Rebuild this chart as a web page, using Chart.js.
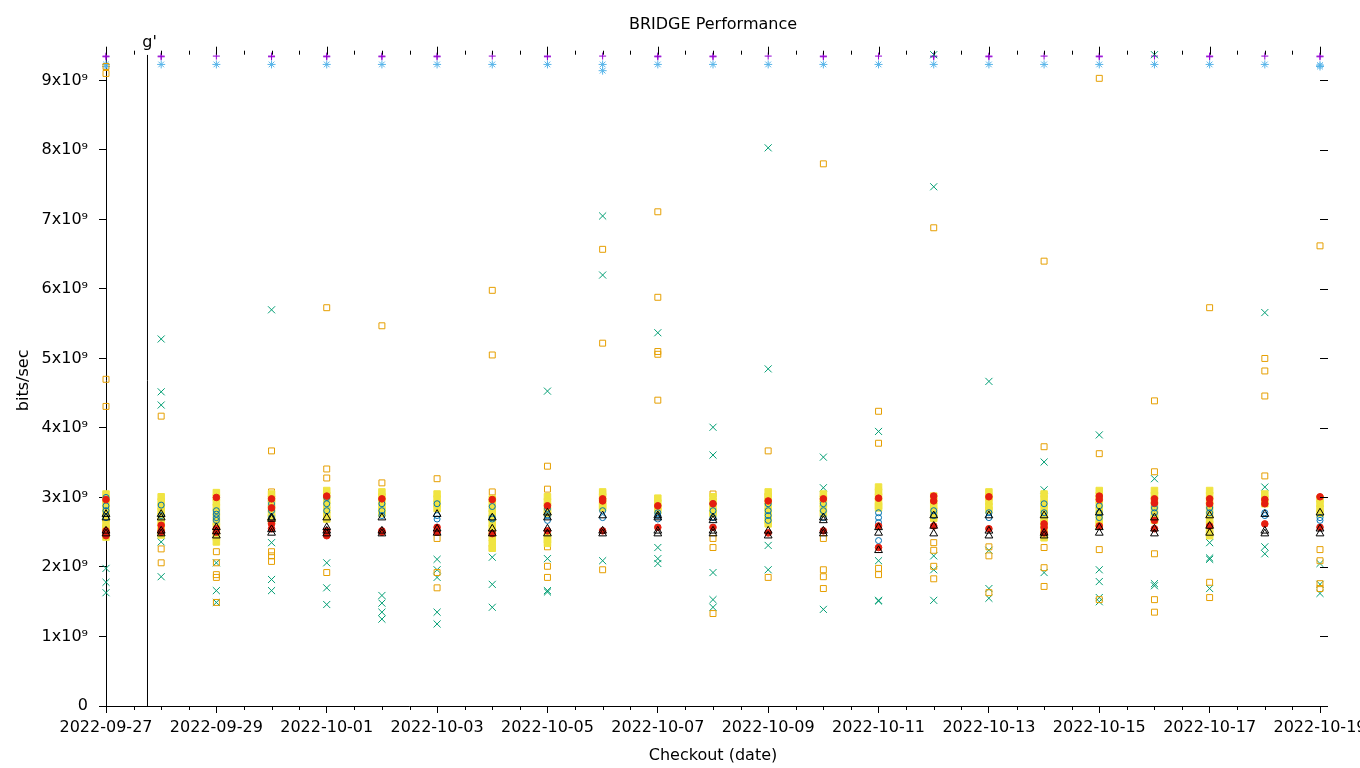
<!DOCTYPE html>
<html>
<head>
<meta charset="utf-8">
<title>BRIDGE Performance</title>
<script src="https://cdn.jsdelivr.net/npm/chart.js@4.4.1/dist/chart.umd.min.js"></script>
<style>
  html, body { margin: 0; padding: 0; background: #fff; }
</style>
</head>
<body>
<canvas id="place__graph" width="1360" height="768"></canvas>
<script>
// checkout dates, one column of points per day (x value = day index)
const dates = ['2022-09-27', '2022-09-28', '2022-09-29', '2022-09-30', '2022-10-01', '2022-10-02',
  '2022-10-03', '2022-10-04', '2022-10-05', '2022-10-06', '2022-10-07', '2022-10-08', '2022-10-09',
  '2022-10-10', '2022-10-11', '2022-10-12', '2022-10-13', '2022-10-14', '2022-10-15', '2022-10-16',
  '2022-10-17', '2022-10-18', '2022-10-19'];

// vertical marker (day index) and its label
const markerDay = 0.752;
const markerLabel = "g'";

const yMax = 9.37;  // x10^9
const yTicks = [0, 1, 2, 3, 4, 5, 6, 7, 8, 9];  // x10^9

// values in 10^9 bits/sec, one list per day
const purplePlus = [[9.35, 9.34], [9.35, 9.34], [9.35], [9.35, 9.34], [9.35, 9.34], [9.35, 9.34],
  [9.35, 9.34], [9.35], [9.35, 9.34], [9.35], [9.35, 9.34], [9.35, 9.34], [9.35],
  [9.35, 9.34], [9.35], [9.35, 9.34], [9.35, 9.34], [9.35], [9.35, 9.34], [9.35],
  [9.35, 9.34], [9.35], [9.35, 9.34]];

const greenCross = [[1.98, 1.78, 1.63], [5.28, 4.52, 4.33, 2.36, 1.86], [2.06, 1.66, 1.49],
  [5.70, 2.35, 1.82, 1.66], [2.06, 1.70, 1.46], [1.59, 1.48, 1.35, 1.25],
  [2.11, 1.96, 1.85, 1.35, 1.18], [2.14, 1.75, 1.42], [4.53, 2.12, 1.66, 1.64],
  [7.05, 6.20, 2.09], [5.37, 2.28, 2.12, 2.05], [4.01, 3.61, 1.92, 1.53, 1.42],
  [8.03, 4.85, 2.31, 1.96], [3.58, 3.14, 1.39], [3.95, 2.09, 1.52, 1.51],
  [9.37, 7.47, 2.16, 1.96, 1.52], [4.67, 2.24, 1.69, 1.55], [3.51, 3.11, 1.92],
  [3.90, 1.96, 1.79, 1.56, 1.50], [9.37, 3.27, 1.76, 1.73], [2.35, 2.13, 2.11, 1.69],
  [5.66, 3.15, 2.29, 2.19], [2.05, 1.75, 1.62]];

const blueStar = [[9.23, 9.20], [9.23], [9.23], [9.23], [9.23], [9.23], [9.23], [9.23], [9.23],
  [9.23, 9.14], [9.23], [9.23], [9.23], [9.23], [9.23], [9.23], [9.23], [9.23], [9.23],
  [9.23], [9.23], [9.23], [9.22, 9.20]];

const orangeSquare = [[9.20, 9.10, 4.70, 4.31, 2.55], [4.17, 2.26, 2.06], [2.22, 2.06, 1.89, 1.85, 1.49],
  [3.67, 3.08, 2.22, 2.16, 2.08], [5.73, 3.41, 3.28, 1.92], [5.47, 3.21],
  [3.27, 2.41, 1.92, 1.70], [5.98, 5.05, 3.08, 2.27], [3.45, 3.12, 2.29, 2.01, 1.85],
  [6.57, 5.22, 3.06, 1.96], [7.11, 5.88, 5.10, 5.06, 4.40], [3.05, 2.41, 2.28, 1.33],
  [3.67, 3.02, 1.85], [7.80, 2.41, 1.96, 1.86, 1.69], [4.24, 3.78, 3.10, 1.98, 1.89],
  [6.88, 2.35, 2.24, 2.01, 1.83], [3.00, 2.29, 2.16, 1.63], [6.40, 3.73, 2.28, 1.99, 1.72],
  [9.03, 3.63, 2.25, 1.53], [4.39, 3.37, 2.19, 1.53, 1.35], [5.73, 1.78, 1.56],
  [5.00, 4.82, 4.46, 3.31], [6.62, 2.25, 2.09, 1.76, 1.69]];

const yellowSquare = [
  [3.05, 2.98, 2.91, 2.84, 2.77, 2.70, 2.63, 2.56, 2.49, 2.43],
  [3.01, 2.94, 2.87, 2.80, 2.73, 2.66, 2.59, 2.52, 2.46],
  [3.07, 3.00, 2.93, 2.86, 2.79, 2.72, 2.65, 2.58, 2.50, 2.43, 2.36],
  [3.05, 2.98, 2.91, 2.84, 2.77, 2.71, 2.66],
  [3.10, 3.03, 2.96, 2.89, 2.82, 2.75, 2.69],
  [3.08, 3.01, 2.94, 2.87, 2.81, 2.77],
  [3.05, 2.98, 2.91, 2.84],
  [2.98, 2.91, 2.84, 2.77, 2.70, 2.63, 2.56, 2.49, 2.42, 2.34, 2.27],
  [3.01, 2.94, 2.87, 2.80, 2.77, 2.44, 2.39, 2.34],
  [3.08, 3.01, 2.94, 2.88, 2.85],
  [2.99, 2.92, 2.86, 2.81],
  [3.01, 2.94, 2.87, 2.80, 2.77],
  [3.08, 3.01, 2.94, 2.87, 2.80, 2.73, 2.67, 2.62],
  [3.05, 2.98, 2.91, 2.84, 2.77],
  [3.15, 3.08, 3.01, 2.94, 2.88, 2.85],
  [3.02, 2.95, 2.88, 2.81, 2.75, 2.70],
  [3.08, 3.01, 2.94, 2.87, 2.82],
  [3.05, 2.98, 2.91, 2.84, 2.77, 2.70, 2.63, 2.56, 2.49, 2.42],
  [3.10, 3.03, 2.96, 2.89, 2.82, 2.75, 2.68, 2.62, 2.59],
  [3.10, 3.03, 2.96, 2.89, 2.82, 2.75, 2.70, 2.67],
  [3.10, 3.03, 2.96, 2.89, 2.82, 2.75, 2.68, 2.61, 2.54, 2.48, 2.45],
  [3.05, 2.98, 2.91],
  [2.98, 2.91, 2.84, 2.77]];

const blueCircle = [[3.00, 2.88, 2.81, 2.71], [2.89, 2.74], [2.81, 2.76, 2.71, 2.67], [2.91, 2.81, 2.71],
  [3.00, 2.91, 2.81], [2.91, 2.81, 2.74], [2.91, 2.74, 2.69], [2.87, 2.71, 2.69], [2.84, 2.74, 2.67],
  [2.81, 2.71], [2.78, 2.74, 2.69], [2.91, 2.81, 2.71], [2.91, 2.81, 2.74, 2.67], [2.91, 2.81, 2.71],
  [2.78, 2.71, 2.64, 2.38], [2.81, 2.74], [2.78, 2.71], [2.91, 2.78], [2.88, 2.78, 2.71],
  [2.91, 2.85, 2.78], [2.85, 2.78], [2.78, 2.74], [2.71, 2.67]];

const redDot = [[2.97, 2.52, 2.49, 2.45], [2.60, 2.52, 2.50], [3.00, 2.55, 2.50], [2.98, 2.85, 2.62, 2.55],
  [3.02, 2.52, 2.45], [2.98, 2.52, 2.50], [2.57, 2.50], [2.97, 2.48], [2.88, 2.52],
  [2.98, 2.95, 2.52], [2.88, 2.57], [2.91, 2.57], [2.95, 2.49], [2.98, 2.52],
  [2.99, 2.59, 2.28], [3.02, 2.95, 2.59], [3.01, 2.55], [2.62, 2.57, 2.49],
  [3.02, 2.97, 2.59], [2.98, 2.92, 2.67, 2.55], [2.98, 2.91, 2.59], [2.97, 2.91, 2.62], [3.01, 2.57]];

const blackTriangle = [[2.76, 2.71, 2.52, 2.48], [2.76, 2.71, 2.52, 2.48], [2.57, 2.51, 2.45],
  [2.71, 2.69, 2.54, 2.49], [2.71, 2.57, 2.52, 2.48], [2.71, 2.52, 2.48], [2.76, 2.55, 2.49],
  [2.71, 2.55, 2.48], [2.78, 2.71, 2.55, 2.48], [2.74, 2.52, 2.48], [2.74, 2.71, 2.52, 2.48],
  [2.71, 2.67, 2.52, 2.48], [2.52, 2.45], [2.71, 2.67, 2.52, 2.48], [2.57, 2.49, 2.24],
  [2.74, 2.59, 2.48], [2.74, 2.52, 2.45], [2.74, 2.49, 2.45], [2.78, 2.57, 2.49],
  [2.71, 2.55, 2.48], [2.74, 2.59, 2.49], [2.76, 2.52, 2.48], [2.78, 2.55, 2.48]];

function toPoints(days) {
    const pts = [];
    days.forEach((vals, d) => {
        vals.forEach(v => pts.push({x: d, y: v * 1e9}));
    });
    return pts
}

// gnuplot-like default line types
const series = [
    {data: purplePlus, color: '#9400d3', style: 'cross', r: 3.5, fill: false},
    {data: greenCross, color: '#009e73', style: 'crossRot', r: 5, fill: false},
    {data: blueStar, color: '#56b4e9', style: 'star', r: 4, fill: false},
    {data: orangeSquare, color: '#e69f00', style: 'rect', r: 4.2, fill: false},
    {data: yellowSquare, color: '#f0e442', style: 'rect', r: 4.6, fill: true},
    {data: blueCircle, color: '#0072b2', style: 'circle', r: 3, fill: false},
    {data: redDot, color: '#e51e10', style: 'circle', r: 3.3, fill: true},
    {data: blackTriangle, color: '#000000', style: 'triangle', r: 4.5, fill: false}
];

const datasets = series.map((s, i) => ({
    data: toPoints(s.data),
    pointStyle: s.style,
    pointRadius: s.r,
    pointBorderWidth: 1,
    pointBorderColor: s.color,
    pointBackgroundColor: s.fill ? s.color : 'rgba(0,0,0,0)',
    borderColor: s.color,
    backgroundColor: s.fill ? s.color : 'rgba(0,0,0,0)',
    showLine: false,
    clip: false,
    order: series.length - i
}));

// the vertical marker line
datasets.push({
    type: 'line',
    data: [{x: markerDay, y: 0}, {x: markerDay, y: yMax * 1e9}],
    borderColor: '#000',
    borderWidth: 1,
    pointRadius: 0,
    order: 20
});

const sup9 = '\u2079';

// minor / mirrored ticks and the marker label
const extraTicks = {
    id: 'extraTicks',
    afterDraw(chart) {
        const {ctx, chartArea: a, scales: {x, y}} = chart;
        ctx.save();
        ctx.strokeStyle = '#000';
        ctx.lineWidth = 1;
        ctx.beginPath();
        for (let d = 0; d <= dates.length - 1; d += 0.5) {
            const px = Math.round(x.getPixelForValue(d)) + 0.5;
            const major = d % 2 === 0;
            if (!major) {
                ctx.moveTo(px, a.bottom);
                ctx.lineTo(px, a.bottom + 4);
            }
            ctx.moveTo(px, a.top);
            ctx.lineTo(px, a.top - (major ? 8 : 4));
        }
        y.ticks.forEach(t => {
            const py = Math.round(y.getPixelForValue(t.value)) + 0.5;
            ctx.moveTo(a.right, py);
            ctx.lineTo(a.right + 8, py);
        });
        ctx.stroke();
        ctx.fillStyle = '#000';
        ctx.font = '16px "DejaVu Sans"';
        ctx.textAlign = 'center';
        ctx.textBaseline = 'alphabetic';
        ctx.fillText(markerLabel, x.getPixelForValue(markerDay) + 2, a.top - 8);
        ctx.restore();
    }
};

Chart.defaults.font.family = '"DejaVu Sans", sans-serif';
Chart.defaults.font.size = 16;
Chart.defaults.color = '#000';

const ctx = document.getElementById('place__graph').getContext('2d');
const chart = new Chart(ctx, {
    type: 'scatter',
    data: {datasets: datasets},
    options: {
        responsive: false,
        animation: false,
        events: [],
        devicePixelRatio: 1,
        layout: {padding: {left: 0, right: 40, top: 0, bottom: 0}},
        plugins: {
            legend: {display: false},
            tooltip: {enabled: false},
            title: {
                display: true,
                text: 'BRIDGE Performance',
                fullSize: false,
                font: {size: 16, weight: 'normal'},
                color: '#000',
                padding: {top: 15, bottom: 20.5}
            }
        },
        scales: {
            x: {
                type: 'linear',
                min: 0,
                max: dates.length - 1,
                border: {display: true, color: '#000', width: 1},
                grid: {drawOnChartArea: false, drawTicks: true, tickLength: 7, color: '#000'},
                ticks: {
                    stepSize: 2,
                    autoSkip: false,
                    maxRotation: 0,
                    padding: 5,
                    color: '#000',
                    callback: v => dates[v]
                },
                title: {display: true, text: 'Checkout (date)', color: '#000', padding: {top: 0, bottom: 3}},
                afterFit: scale => {
                    scale.height = 62;
                    scale.paddingLeft = 0;
                    scale.paddingRight = 0;
                }
            },
            y: {
                type: 'linear',
                min: 0,
                max: yMax * 1e9,
                border: {display: true, color: '#000', width: 1},
                grid: {drawOnChartArea: false, drawTicks: true, tickLength: 7, color: '#000'},
                ticks: {
                    autoSkip: false,
                    padding: 11,
                    color: '#000',
                    callback: v => v === 0 ? '0' : Math.round(v / 1e9) + 'x10' + sup9
                },
                title: {display: true, text: 'bits/sec', color: '#000', padding: {top: 14, bottom: 0}},
                afterFit: scale => {
                    scale.width = 106;
                },
                afterBuildTicks: scale => {
                    scale.ticks = yTicks.map(v => ({value: v * 1e9}));
                }
            }
        }
    },
    plugins: [extraTicks]
});
</script>
</body>
</html>
